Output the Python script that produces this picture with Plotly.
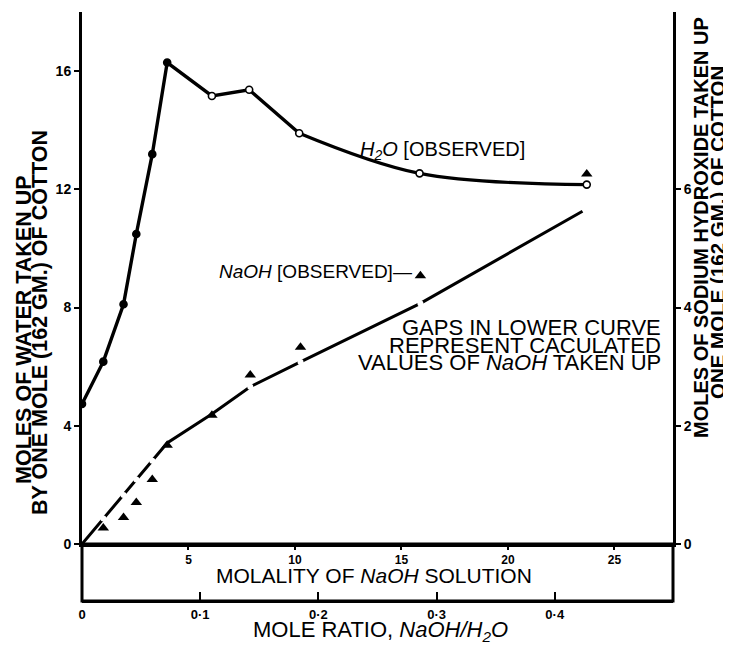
import plotly.graph_objects as go

# ---------------- data ----------------
molality = [0, 1.0, 1.95, 2.55, 3.3, 4.0, 6.1, 7.85, 10.2, 15.85, 23.7]
water_observed = [4.74, 6.17, 8.11, 10.49, 13.19, 16.29, 15.16, 15.37, 13.90, 12.54, 12.16]

naoh_molality = [1.0, 1.95, 2.55, 3.3, 4.0, 6.1, 7.9, 10.26, 15.89, 23.7]
naoh_observed = [0.27, 0.45, 0.70, 1.09, 1.67, 2.18, 2.86, 3.33, 4.54, 6.26]

calc_molality = [0, 1.0, 1.95, 2.55, 3.3, 4.0, 6.1, 7.9, 10.26, 15.89, 23.5]
naoh_calculated = [0, 0.43, 0.83, 1.09, 1.41, 1.71, 2.2, 2.66, 3.08, 4.07, 5.63]
calc_is_gap = [False, True, True, True, True, False, False, True, True, True, False]

molality_ticks = [5, 10, 15, 20, 25]
water_ticks = [0, 4, 8, 12, 16]
naoh_ticks = [0, 2, 4, 6]
ratio_ticks = [0, 0.1, 0.2, 0.3, 0.4]
ratio_labels = ["0", "0·1", "0·2", "0·3", "0·4"]

MOLALITY_MAX = 27.75
WATER_MAX = 18.0
MOLE_RATIO_PER_MOLAL = 0.01802  # mole ratio NaOH/H2O = molality * M(H2O)/1000

FONT = "Liberation Sans, Arial, sans-serif"

fig = go.Figure()

# H2O observed (left axis): straight segments up to the 10 m point, smooth tail
water_marker_fill = ["black"] * 6 + ["white"] * 5
fig.add_trace(go.Scatter(
    x=molality[:9], y=water_observed[:9], mode="lines",
    line=dict(color="black", width=3.4),
    xaxis="x", yaxis="y", hoverinfo="skip"))
fig.add_trace(go.Scatter(
    x=molality[8:], y=water_observed[8:], mode="lines",
    line=dict(color="black", width=3.2, shape="spline", smoothing=1.0),
    xaxis="x", yaxis="y", hoverinfo="skip"))
fig.add_trace(go.Scatter(
    x=molality, y=water_observed, mode="markers",
    marker=dict(symbol="circle", size=7, color=water_marker_fill,
                line=dict(color="black", width=1.6)),
    xaxis="x", yaxis="y", hoverinfo="skip"))

# invisible companion trace so the mole-ratio scale is drawn
fig.add_trace(go.Scatter(
    x=[m * MOLE_RATIO_PER_MOLAL for m in molality], y=water_observed, mode="markers",
    marker=dict(opacity=0, size=1), xaxis="x2", yaxis="y", hoverinfo="skip"))

# Calculated NaOH curve (right axis) with gaps at calculated values
fig.add_trace(go.Scatter(
    x=calc_molality, y=naoh_calculated, mode="lines",
    line=dict(color="black", width=3),
    xaxis="x", yaxis="y2", hoverinfo="skip"))
gap_x = [x for x, g in zip(calc_molality, calc_is_gap) if g]
gap_y = [y for y, g in zip(naoh_calculated, calc_is_gap) if g]
fig.add_trace(go.Scatter(
    x=gap_x, y=gap_y, mode="markers",
    marker=dict(symbol="circle", size=6, color="white", line=dict(width=0)),
    xaxis="x", yaxis="y2", hoverinfo="skip"))

# NaOH observed triangles
fig.add_trace(go.Scatter(
    x=naoh_molality, y=naoh_observed, mode="markers",
    marker=dict(symbol="triangle-up", size=10, color="black"),
    xaxis="x", yaxis="y2", hoverinfo="skip"))

ydom0 = 57 / 589

def axis_style(size):
    return dict(showgrid=False, zeroline=False, showline=True, linecolor="black",
                linewidth=3, tickcolor="black", tickwidth=2,
                tickfont=dict(family=FONT, size=size, color="black", weight="bold"))

fig.update_layout(
    width=723, height=639,
    margin=dict(l=74, r=58, t=4, b=46),
    paper_bgcolor="white", plot_bgcolor="white",
    showlegend=False,
    font=dict(family=FONT, color="black"),
    xaxis=dict(domain=[0, 1], range=[0, MOLALITY_MAX], anchor="y",
               tickvals=molality_ticks, ticks="outside", ticklen=3, **axis_style(12)),
    yaxis=dict(domain=[ydom0, 1], range=[0, WATER_MAX], anchor="x",
               tickvals=water_ticks, ticks="outside", ticklen=5, **axis_style(14)),
    yaxis2=dict(overlaying="y", side="right", range=[0, WATER_MAX / 2], anchor="x",
                tickvals=naoh_ticks, ticks="outside", ticklen=5, **axis_style(14)),
    xaxis2=dict(overlaying="x", anchor="free", position=0, side="bottom",
                range=[0, MOLALITY_MAX * MOLE_RATIO_PER_MOLAL],
                tickvals=ratio_ticks, ticktext=ratio_labels,
                ticks="inside", ticklen=8, **axis_style(13)),
)

# band between the two x scales
fig.add_shape(type="rect", xref="paper", yref="paper", x0=0, x1=1, y0=0, y1=ydom0,
              line=dict(color="black", width=3), fillcolor="rgba(0,0,0,0)", layer="above")

ann = []
def add_text(text, x, y, size, xanchor="center", angle=0, bold=False):
    ann.append(dict(text=text, x=x, y=y, xref="paper", yref="paper", showarrow=False,
                    xanchor=xanchor, yanchor="middle", textangle=angle,
                    font=dict(family=FONT, size=size, color="black",
                              weight="bold" if bold else "normal")))

# helpers: window pixel -> paper fraction (page has an 8px body margin)
def px_x(px):
    return (px - 82) / 591
def px_y(py):
    return (601 - py) / 589

add_text("<i>H<sub>2</sub>O</i> [OBSERVED]", px_x(358), px_y(150), 20, xanchor="left")
add_text("<i>NaOH</i> [OBSERVED]—", px_x(414), px_y(272), 19, xanchor="right")
add_text("GAPS IN LOWER CURVE", px_x(663), px_y(327), 22, xanchor="right")
add_text("REPRESENT CACULATED", px_x(663), px_y(345), 22, xanchor="right")
add_text("VALUES OF <i>NaOH</i> TAKEN UP", px_x(663), px_y(362), 22, xanchor="right")
add_text("MOLALITY OF <i>NaOH</i> SOLUTION", px_x(374), px_y(575), 21)
add_text("MOLE RATIO, <i>NaOH/H<sub>2</sub>O</i>", px_x(380), px_y(631), 22)

add_text("MOLES OF WATER TAKEN UP", px_x(24), px_y(330), 21.5, angle=-90, bold=True)
add_text("BY ONE MOLE (162 GM.) OF COTTON", px_x(40), px_y(323), 21.5, angle=-90, bold=True)
add_text("MOLES OF SODIUM HYDROXIDE TAKEN UP", px_x(701), px_y(228), 20, angle=-90, bold=True)
add_text("ONE MOLE (162 GM.) OF COTTON", px_x(718), px_y(232), 20.5, angle=-90, bold=True)

fig.update_layout(annotations=ann)

fig.write_html("out.html")
